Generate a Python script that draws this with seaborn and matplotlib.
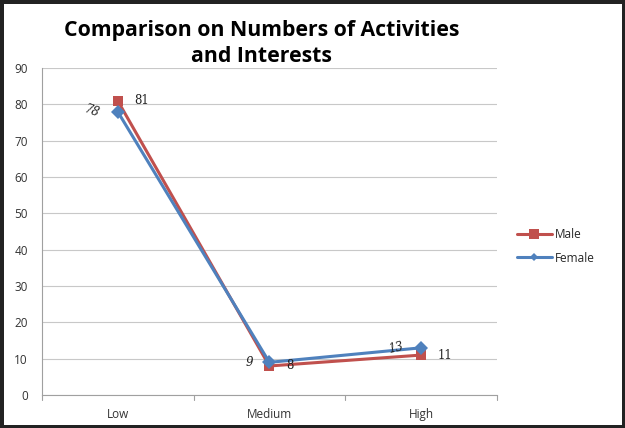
import pandas as pd
import matplotlib.pyplot as plt
import seaborn as sns

# data
categories = ["Low", "Medium", "High"]
male = [81, 8, 11]
female = [78, 9, 13]

df = pd.DataFrame({
    "level": categories * 2,
    "value": male + female,
    "sex": ["Male"] * 3 + ["Female"] * 3,
})

sns.set_style("white")
plt.rcParams['font.family'] = ['Open Sans', 'DejaVu Sans']

fig = plt.figure(figsize=(6.25, 4.28), dpi=100)
fig.patch.set_edgecolor("#222222")
fig.patch.set_linewidth(5)
ax = fig.add_axes([0.067, 0.077, 0.728, 0.764])

palette = {"Male": "#C0504D", "Female": "#4F81BD"}
sns.lineplot(data=df, x="level", y="value", hue="sex", style="sex",
             markers={"Male": "s", "Female": "D"}, dashes=False,
             palette=palette, linewidth=2.2, markersize=7,
             markeredgewidth=0, sort=False, ax=ax)

ax.set_xlim(-0.5, 2.5)
ax.set_ylim(0, 90)
ax.set_yticks(range(0, 91, 10))
ax.yaxis.grid(True, color="#c8c8c8", linewidth=0.8)
ax.set_axisbelow(True)
ax.set_xlabel("")
ax.set_ylabel("")
for s in ["top", "right"]:
    ax.spines[s].set_visible(False)
for s in ["left", "bottom"]:
    ax.spines[s].set_color("#a0a0a0")
ax.tick_params(axis="y", length=4, color="#a0a0a0", labelsize=8.5, labelcolor="#333333", pad=6)
ax.tick_params(axis="x", length=0, labelsize=8.5, labelcolor="#333333", pad=9)
ax.set_xticks(range(len(categories)))
ax.set_xticklabels(categories)
# Excel-style tick marks between categories
for xb in [-0.5, 0.5, 1.5, 2.5]:
    ax.plot([xb, xb], [0, -1.3], color="#a0a0a0", lw=0.8, clip_on=False)

# data labels
for i, v in enumerate(male):
    ax.annotate(str(v), (i, v), xytext=(12, 0), textcoords="offset points",
                fontsize=8.5, va="center", ha="left", color="#222222", family="DejaVu Serif")
rots = [-20, 0, 12]
for i, v in enumerate(female):
    ax.annotate(str(v), (i, v), xytext=(-12, 0), textcoords="offset points",
                fontsize=8.5, va="center", ha="right", color="#222222",
                rotation=rots[i], style="italic", family="DejaVu Serif")

handles, labels = ax.get_legend_handles_labels()
handles[0].set_markersize(7)
handles[1].set_markersize(4.5)
ax.legend(handles, labels, loc="center left", bbox_to_anchor=(1.02, 0.455),
          frameon=False, fontsize=8.5, handlelength=3, labelspacing=0.9,
          handletextpad=0.2)

fig.text(0.418, 0.898, "Comparison on Numbers of Activities\nand Interests",
         ha="center", va="center", fontsize=15.3, fontweight="bold",
         linespacing=1.3, color="black")

fig.savefig("out.png", dpi=100)
